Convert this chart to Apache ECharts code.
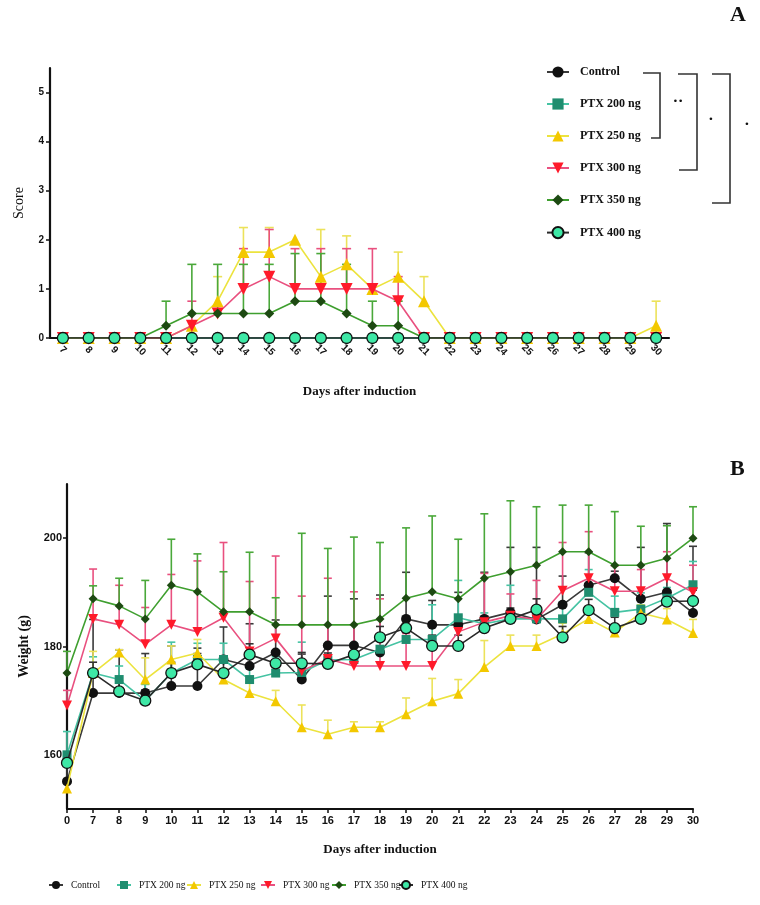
<!DOCTYPE html>
<html><head><meta charset="utf-8">
<script src="https://cdn.jsdelivr.net/npm/echarts@6/dist/echarts.min.js"></script>
<style>html,body{margin:0;padding:0;background:#fff}#c{width:760px;height:905px}</style>
</head><body><div id="c"></div>
<script>
// ---------- DATA ----------
const seriesNames = ['Control','PTX 200 ng','PTX 250 ng','PTX 300 ng','PTX 350 ng','PTX 400 ng'];
const daysA = ['7','8','9','10','11','12','13','14','15','16','17','18','19','20','21','22','23','24','25','26','27','28','29','30'];
const yTicksA = [0,1,2,3,4,5];
const scoreControl = [0,0,0,0,0,0,0,0,0,0,0,0,0,0,0,0,0,0,0,0,0,0,0,0];
const scorePTX200  = [0,0,0,0,0,0,0,0,0,0,0,0,0,0,0,0,0,0,0,0,0,0,0,0];
const scorePTX250  = [0,0,0,0,0,0.25,0.75,1.75,1.75,2,1.25,1.5,1,1.25,0.75,0,0,0,0,0,0,0,0,0.25];
const scorePTX300  = [0,0,0,0,0,0.25,0.5,1,1.25,1,1,1,1,0.75,0,0,0,0,0,0,0,0,0,0];
const scorePTX350  = [0,0,0,0,0.25,0.5,0.5,0.5,0.5,0.75,0.75,0.5,0.25,0.25,0,0,0,0,0,0,0,0,0,0];
const scorePTX400  = [0,0,0,0,0,0,0,0,0,0,0,0,0,0,0,0,0,0,0,0,0,0,0,0];
const scoreErrControl = [0,0,0,0,0,0,0,0,0,0,0,0,0,0,0,0,0,0,0,0,0,0,0,0];
const scoreErrPTX200  = [0,0,0,0,0,0,0,0,0,0,0,0,0,0,0,0,0,0,0,0,0,0,0,0];
const scoreErrPTX250  = [0,0,0,0,0,0,0.5,0.5,0.5,0,0.96,0.58,0,0.5,0.5,0,0,0,0,0,0,0,0,0.5];
const scoreErrPTX300  = [0,0,0,0,0,0.5,0,0.82,0.96,0.82,0.82,0.82,0.82,0.5,0,0,0,0,0,0,0,0,0,0];
const scoreErrPTX350  = [0,0,0,0,0.5,1,1,1,1,0.97,0.97,1,0.5,0.5,0,0,0,0,0,0,0,0,0,0];
const scoreErrPTX400  = [0,0,0,0,0,0,0,0,0,0,0,0,0,0,0,0,0,0,0,0,0,0,0,0];

const daysB = ['0','7','8','9','10','11','12','13','14','15','16','17','18','19','20','21','22','23','24','25','26','27','28','29','30'];
const yTicksB = [160,180,200];
const wControl = [155.1,171.4,171.4,171.4,172.7,172.7,177.6,176.4,178.9,173.9,180.2,180.2,178.9,185.1,184.0,184.0,185.1,186.3,185.0,187.7,191.3,192.6,188.8,190.0,186.2];
const wPTX200  = [160.0,175.1,173.9,170.0,175.1,177.6,177.6,173.9,175.1,175.2,177.5,177.6,179.5,181.3,181.3,185.3,184.2,185.1,185.1,185.1,190.0,186.3,186.9,188.9,191.4];
const wPTX250  = [153.8,175.1,178.9,173.9,177.6,178.8,173.9,171.4,169.9,165.1,163.8,165.1,165.1,167.5,169.9,171.3,176.2,180.1,180.1,182.3,185.1,182.6,186.2,185.0,182.5];
const wPTX300  = [169.1,185.1,184.0,180.4,184.0,182.7,185.3,179.1,181.5,175.5,177.7,176.4,176.4,176.4,176.4,182.7,184.5,185.7,185.0,190.3,192.6,190.2,190.2,192.6,190.0];
const wPTX350  = [175.1,188.8,187.5,185.1,191.3,190.1,186.4,186.4,184.0,184.0,184.0,184.0,185.1,188.9,190.1,188.8,192.6,193.8,195.0,197.5,197.5,195.0,195.0,196.3,200.0];
const wPTX400  = [158.5,175.1,171.7,170.0,175.1,176.7,175.1,178.5,176.9,176.9,176.8,178.5,181.7,183.4,180.1,180.1,183.4,185.1,186.8,181.7,186.7,183.4,185.1,188.3,188.4];
const wErrControl = [3,13.6,8,7.3,7.4,7,6,7.8,6,4.7,9.1,8.6,10.6,8.6,4.5,6,8.6,12,13.3,5.3,6,1.3,9.5,12.7,12.3];
const wErrPTX200  = [4.3,3,2.5,3,5.7,3,3,2,3,5.6,3,3,2,2,6.4,6.9,2,6.2,2,3,4.2,3,3,2,4.3];
const wErrPTX250  = [0,4,0.5,4,2.5,2.5,2,2,2,4.1,2.6,1,1,3,4.2,2.6,4.9,2,2,2,2,1,1.5,2,2.5];
const wErrPTX300  = [2.8,9.2,7.3,6.8,9.3,13.1,13.9,12.9,15.2,13.8,14.9,13.7,12.4,6,5,3,9,4,7.2,8.9,8.6,4.7,4,4.9,5];
const wErrPTX350  = [4,2.4,5.1,7.1,8.5,7,7.4,11,5,16.9,14.1,16.2,14.1,13,14,11,11.9,13.1,10.8,8.6,8.6,9.9,7.2,6,5.8];
const wErrPTX400  = [2,2,2,2,2,2,2,2,2,2,2,2,2,2,2,2,2,2,2,2,2,2,2,2,2];

// ---------- STYLE ----------
const styles = [
  {marker:'#111111', line:'#3a3a3a', err:'#3a3a3a', symbol:'circle', rot:0, sizeA:10, sizeB:10, border:null},
  {marker:'#1f8d6f', line:'#45c3a3', err:'#45c3a3', symbol:'rect', rot:0, sizeA:9, sizeB:9, border:null},
  {marker:'#f3c800', line:'#ece33e', err:'#ece25a', symbol:'triangle', rot:0, sizeA:12, sizeB:10, border:null},
  {marker:'#ff1a2a', line:'#e9507f', err:'#e9507f', symbol:'triangle', rot:180, sizeA:12, sizeB:10, border:null},
  {marker:'#1d4a12', line:'#3f9f2f', err:'#4aa83a', symbol:'diamond', rot:0, sizeA:10, sizeB:9, border:null},
  {marker:'#3ee8a6', line:'#2a2a2a', err:'#333333', symbol:'circle', rot:0, sizeA:11, sizeB:11, border:'#111111'}
];
const scoreData = [scoreControl,scorePTX200,scorePTX250,scorePTX300,scorePTX350,scorePTX400];
const scoreErr  = [scoreErrControl,scoreErrPTX200,scoreErrPTX250,scoreErrPTX300,scoreErrPTX350,scoreErrPTX400];
const wData = [wControl,wPTX200,wPTX250,wPTX300,wPTX350,wPTX400];
const wErr  = [wErrControl,wErrPTX200,wErrPTX250,wErrPTX300,wErrPTX350,wErrPTX400];

function lineSeries(i, axis, data, size){
  const s = styles[i];
  return {
    type:'line', name: seriesNames[i], xAxisIndex: axis, yAxisIndex: axis, data: data,
    symbol: s.symbol, symbolRotate: s.rot, symbolSize: size, showAllSymbol: true,
    lineStyle:{color:s.line, width:1.6},
    itemStyle:{color:s.marker, borderColor: s.border || s.marker, borderWidth: s.border ? 1.3 : 0},
    z: 3 + i, animation:false
  };
}
function errSeries(i, axis, means, errs, cap){
  const s = styles[i];
  return {
    type:'custom', name: seriesNames[i] + ' err', xAxisIndex: axis, yAxisIndex: axis,
    data: means.map((m,k)=>[k, m, errs[k]]), encode:{x:0,y:1}, z:1, silent:true, animation:false,
    renderItem: function(params, api){
      const e = api.value(2);
      if(!e) return null;
      const x = api.value(0), m = api.value(1);
      const p0 = api.coord([x, m]), p1 = api.coord([x, m + e]);
      return {type:'group', children:[
        {type:'line', shape:{x1:p0[0],y1:p0[1],x2:p1[0],y2:p1[1]}, style:{stroke:s.err, lineWidth:1.6}},
        {type:'line', shape:{x1:p1[0]-cap,y1:p1[1],x2:p1[0]+cap,y2:p1[1]}, style:{stroke:s.err, lineWidth:1.6}}
      ]};
    }
  };
}

const series = [];
for(let i=0;i<6;i++) series.push(errSeries(i,0,scoreData[i],scoreErr[i],4.5));
for(let i=0;i<6;i++) series.push(lineSeries(i,0,scoreData[i],styles[i].sizeA));
for(let i=0;i<6;i++) series.push(errSeries(i,1,wData[i],wErr[i],4));
for(let i=0;i<6;i++) series.push(lineSeries(i,1,wData[i],styles[i].sizeB));

const tickFont = {fontFamily:'Liberation Sans', fontWeight:'bold', color:'#111'};
const legendBCenters = [55,123,193,267,338,405];
const legendsB = seriesNames.map((n,i)=>({
  data:[n], left: legendBCenters[i]-7, top: 880, padding:0, itemWidth:14, itemHeight:10, itemGap:5,
  textStyle:{fontFamily:'Liberation Serif', fontSize:9.5, color:'#111', padding:[0,0,0,3]}
}));

const chart = echarts.init(document.getElementById('c'), null, {renderer:'canvas'});
chart.setOption({
  animation:false,
  backgroundColor:'#fff',
  grid:[
    {left:50, top:68, width:619, height:270},
    {left:67, top:484, width:626, height:325}
  ],
  xAxis:[
    {type:'category', gridIndex:0, data:daysA, boundaryGap:true,
     axisLine:{lineStyle:{color:'#111', width:2.2}},
     axisTick:{show:true, alignWithLabel:true, length:3, lineStyle:{color:'#111', width:1.5}},
     axisLabel:Object.assign({fontSize:10, rotate:-45, margin:12, interval:0, align:'center', verticalAlign:'middle'}, tickFont),
     name:'Days after induction', nameLocation:'middle', nameGap:47,
     nameTextStyle:{fontFamily:'Liberation Serif', fontWeight:'bold', fontSize:13, color:'#111'}},
    {type:'category', gridIndex:1, data:daysB, boundaryGap:false,
     axisLine:{lineStyle:{color:'#111', width:2.2}},
     axisTick:{show:true, alignWithLabel:true, length:4, interval:0, lineStyle:{color:'#111', width:1.5}},
     axisLabel:Object.assign({fontSize:11, margin:6, interval:0}, tickFont),
     name:'Days after induction', nameLocation:'middle', nameGap:34,
     nameTextStyle:{fontFamily:'Liberation Serif', fontWeight:'bold', fontSize:13, color:'#111'}}
  ],
  yAxis:[
    {type:'value', gridIndex:0, min:0, max:5.5, interval:1,
     axisLine:{show:true, lineStyle:{color:'#111', width:2.2}},
     axisTick:{show:true, length:4, customValues:yTicksA, lineStyle:{color:'#111', width:1.5}},
     axisLabel:Object.assign({fontSize:10, margin:6, customValues:yTicksA}, tickFont),
     splitLine:{show:false},
     name:'Score', nameLocation:'middle', nameGap:24,
     nameTextStyle:{fontFamily:'Liberation Serif', fontSize:14, color:'#111'}},
    {type:'value', gridIndex:1, min:150, max:210, interval:10,
     axisLine:{show:true, lineStyle:{color:'#111', width:2.2}},
     axisTick:{show:true, length:4, customValues:yTicksB, lineStyle:{color:'#111', width:1.5}},
     axisLabel:Object.assign({fontSize:11, margin:5, customValues:yTicksB}, tickFont),
     splitLine:{show:false},
     name:'Weight (g)', nameLocation:'middle', nameGap:36,
     nameTextStyle:{fontFamily:'Liberation Serif', fontWeight:'bold', fontSize:14, color:'#111'}}
  ],
  legend:[
    {data:seriesNames, orient:'vertical', left:546, top:66, padding:0, itemWidth:22, itemHeight:14, itemGap:20,
     textStyle:{fontFamily:'Liberation Serif', fontWeight:'bold', fontSize:12, color:'#111', padding:[0,0,0,6]}}
  ].concat(legendsB),
  graphic:[
    {type:'text', left:730, top:4, style:{text:'A', font:'bold 22px "Liberation Serif"', fill:'#111'}},
    {type:'text', left:730, top:458, style:{text:'B', font:'bold 22px "Liberation Serif"', fill:'#111'}},
    {type:'polyline', shape:{points:[[643,73],[660,73],[660,138],[651,138]]}, style:{stroke:'#333', lineWidth:1.6, fill:null}},
    {type:'polyline', shape:{points:[[678,74],[697,74],[697,170],[679,170]]}, style:{stroke:'#333', lineWidth:1.6, fill:null}},
    {type:'polyline', shape:{points:[[712,74],[730,74],[730,203],[712,203]]}, style:{stroke:'#333', lineWidth:1.6, fill:null}},
    {type:'text', x:678, y:102, style:{text:'••', font:'9px "DejaVu Sans"', fill:'#111', align:'center', verticalAlign:'middle'}},
    {type:'text', x:711, y:120, style:{text:'•', font:'9px "DejaVu Sans"', fill:'#111', align:'center', verticalAlign:'middle'}},
    {type:'text', x:747, y:125, style:{text:'•', font:'9px "DejaVu Sans"', fill:'#111', align:'center', verticalAlign:'middle'}}
  ],
  series: series
});
</script></body></html>
